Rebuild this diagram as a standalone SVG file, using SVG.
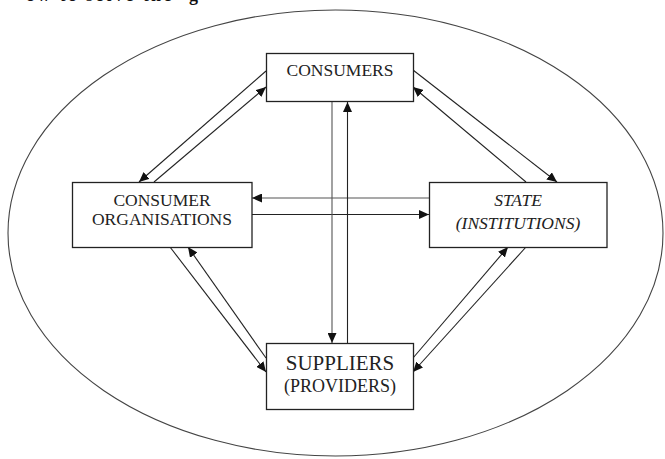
<svg xmlns="http://www.w3.org/2000/svg" width="665" height="459" viewBox="0 0 665 459">
<style>
.box{fill:#fff;stroke:#222;stroke-width:1.3}
.lbl{font-family:"Liberation Serif","Times New Roman",serif;fill:#222;text-anchor:middle}
.conn line{stroke:#222;stroke-width:1.1;fill:none}
</style>
<defs>
<marker id="ah" markerUnits="userSpaceOnUse" markerWidth="11" markerHeight="9" refX="10" refY="4.5" orient="auto">
<path d="M0,0 L10,4.5 L0,9 z" fill="#111"/>
</marker>
</defs>
<rect width="665" height="459" fill="#fff"/>
<text x="26" y="1" font-family="'Liberation Serif',serif" font-weight="bold" font-size="18" fill="#111" textLength="172">ow to solve the ‘g</text>
<ellipse cx="335.5" cy="233" rx="327.5" ry="223" fill="none" stroke="#444" stroke-width="1.1"/>
<g class="conn">
<line x1="266" y1="71" x2="139" y2="182" marker-end="url(#ah)"/>
<line x1="154" y1="182" x2="266" y2="87" marker-end="url(#ah)"/>
<line x1="413" y1="70" x2="557" y2="182" marker-end="url(#ah)"/>
<line x1="526" y1="182" x2="413" y2="87" marker-end="url(#ah)"/>
<line x1="170" y1="247" x2="266" y2="372" marker-end="url(#ah)"/>
<line x1="266" y1="358" x2="188" y2="247" marker-end="url(#ah)"/>
<line x1="413" y1="358" x2="508" y2="247" marker-end="url(#ah)"/>
<line x1="526" y1="247" x2="413" y2="372" marker-end="url(#ah)"/>
<line x1="429" y1="198" x2="252" y2="198" marker-end="url(#ah)" style="stroke:#555"/>
<line x1="252" y1="214.5" x2="429" y2="214.5" marker-end="url(#ah)"/>
<line x1="332" y1="102" x2="332" y2="343" marker-end="url(#ah)" style="stroke:#555"/>
<line x1="347.5" y1="343" x2="347.5" y2="102" marker-end="url(#ah)"/>
</g>
<g id="consumers">
<rect class="box" x="266.5" y="53.5" width="147" height="48"/>
<text class="lbl" x="340" y="76" font-size="17.5">CONSUMERS</text>
</g>
<g id="consumer-organisations">
<rect class="box" x="72.5" y="182.5" width="179.5" height="65"/>
<text class="lbl" x="162" y="206" font-size="17.5">CONSUMER</text>
<text class="lbl" x="162" y="225" font-size="17.5">ORGANISATIONS</text>
</g>
<g id="state">
<rect class="box" x="429.5" y="182.5" width="177.5" height="65"/>
<text class="lbl" x="518" y="206" font-size="17.5" font-style="italic">STATE</text>
<text class="lbl" x="518" y="229" font-size="17.5" font-style="italic">(INSTITUTIONS)</text>
</g>
<g id="suppliers">
<rect class="box" x="266.5" y="343.5" width="147" height="66"/>
<text class="lbl" x="340" y="370" font-size="21">SUPPLIERS</text>
<text class="lbl" x="340" y="392" font-size="18">(PROVIDERS)</text>
</g>
</svg>
